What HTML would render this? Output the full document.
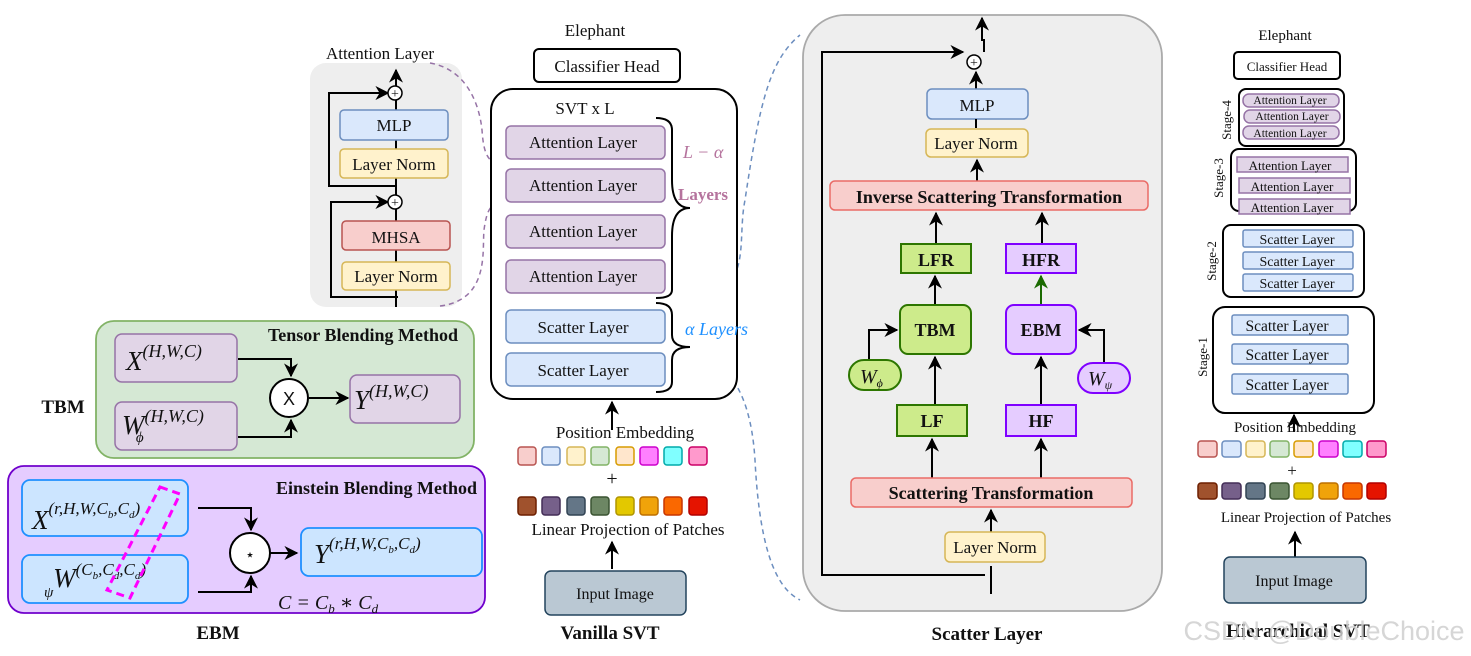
<!DOCTYPE html>
<html><head><meta charset="utf-8"><style>
html,body{margin:0;padding:0;background:#fff;}
svg{display:block;}
text{font-family:"Liberation Serif","DejaVu Serif",serif;fill:#111;}
.b{font-weight:bold;}
.i{font-style:italic;}
</style></head><body>
<svg width="1471" height="656" viewBox="0 0 1471 656" xmlns="http://www.w3.org/2000/svg">
<defs>
<marker id="ah" viewBox="0 0 10 10" refX="9" refY="5" markerWidth="7" markerHeight="7" orient="auto-start-reverse"><path d="M0,0 L10,5 L0,10 L3,5 z" fill="#000"/></marker>
<marker id="ahg" viewBox="0 0 10 10" refX="9" refY="5" markerWidth="7" markerHeight="7" orient="auto"><path d="M0,0 L10,5 L0,10 L3,5 z" fill="#1a6a00"/></marker>
</defs>

<!-- Attention Layer panel -->
<text x="380" y="59" font-size="17" text-anchor="middle">Attention Layer</text>
<rect x="310" y="63" width="152" height="244" rx="16" fill="#eeeeee"/>
<line x1="396" y1="307" x2="396" y2="70" stroke="#000" stroke-width="2" marker-end="url(#ah)"/>
<polyline points="398,297 331,297 331,202 388,202" fill="none" stroke="#000" stroke-width="2" marker-end="url(#ah)"/>
<polyline points="396,186 329,186 329,93 388,93" fill="none" stroke="#000" stroke-width="2" marker-end="url(#ah)"/>
<rect x="340" y="110" width="108" height="30" rx="4" fill="#dae8fc" stroke="#6c8ebf" stroke-width="1.5"/>
<text x="394" y="131" font-size="17" text-anchor="middle">MLP</text>
<rect x="340" y="149" width="108" height="29" rx="4" fill="#fff2cc" stroke="#d6b656" stroke-width="1.5"/>
<text x="394" y="170" font-size="17" text-anchor="middle">Layer Norm</text>
<rect x="342" y="221" width="108" height="29" rx="4" fill="#f8cecc" stroke="#b85450" stroke-width="1.5"/>
<text x="396" y="243" font-size="17" text-anchor="middle">MHSA</text>
<rect x="342" y="262" width="108" height="28" rx="4" fill="#fff2cc" stroke="#d6b656" stroke-width="1.5"/>
<text x="396" y="282" font-size="17" text-anchor="middle">Layer Norm</text>
<circle cx="395" cy="93" r="7" fill="#fff" stroke="#000" stroke-width="1.5"/><text x="395" y="98" font-size="14" text-anchor="middle">+</text>
<circle cx="395" cy="202" r="7" fill="#fff" stroke="#000" stroke-width="1.5"/><text x="395" y="207" font-size="14" text-anchor="middle">+</text>

<!-- dashed connectors -->
<path d="M430,63 C470,70 480,110 482,130 C484,160 490,162 506,168" fill="none" stroke="#9673a6" stroke-width="1.5" stroke-dasharray="5,4"/>
<path d="M440,306 C490,300 482,250 484,230 C488,200 495,205 506,203" fill="none" stroke="#9673a6" stroke-width="1.5" stroke-dasharray="5,4"/>
<path d="M664,310 C760,300 735,250 745,200 C760,100 770,60 800,35" fill="none" stroke="#6c8ebf" stroke-width="1.5" stroke-dasharray="5,4"/>
<path d="M664,344 C720,350 750,380 755,460 C760,560 780,590 800,600" fill="none" stroke="#6c8ebf" stroke-width="1.5" stroke-dasharray="5,4"/>

<!-- TBM -->
<rect x="96" y="321" width="378" height="137" rx="18" fill="#d5e8d4" stroke="#82b366" stroke-width="1.8"/>
<text x="458" y="341" font-size="18" class="b" text-anchor="end">Tensor Blending Method</text>
<text x="63" y="413" font-size="19" class="b" text-anchor="middle">TBM</text>
<rect x="115" y="334" width="122" height="48" rx="7" fill="#e1d5e7" stroke="#9673a6" stroke-width="1.5"/>
<text x="126" y="370" font-size="27" class="i">X<tspan font-size="18" dy="-13">(H,W,C)</tspan></text>
<rect x="115" y="402" width="122" height="48" rx="7" fill="#e1d5e7" stroke="#9673a6" stroke-width="1.5"/>
<text x="122" y="434" font-size="27" class="i">W<tspan font-size="18" dy="-12">(H,W,C)</tspan><tspan font-size="15" dx="-68" dy="20">ϕ</tspan></text>
<polyline points="238,359 291,359 291,376" fill="none" stroke="#000" stroke-width="2" marker-end="url(#ah)"/>
<polyline points="238,437 291,437 291,420" fill="none" stroke="#000" stroke-width="2" marker-end="url(#ah)"/>
<circle cx="289" cy="398" r="19" fill="#fff" stroke="#000" stroke-width="2"/>
<text x="289" y="405" font-size="18" text-anchor="middle" style="font-family:'Liberation Sans',sans-serif">X</text>
<line x1="309" y1="398" x2="348" y2="398" stroke="#000" stroke-width="2" marker-end="url(#ah)"/>
<rect x="350" y="375" width="110" height="48" rx="7" fill="#e1d5e7" stroke="#9673a6" stroke-width="1.5"/>
<text x="354" y="409" font-size="27" class="i">Y<tspan font-size="18" dy="-12">(H,W,C)</tspan></text>

<!-- EBM -->
<rect x="8" y="466" width="477" height="147" rx="16" fill="#e5ccff" stroke="#7000cc" stroke-width="1.8"/>
<text x="477" y="494" font-size="18" class="b" text-anchor="end">Einstein Blending Method</text>
<text x="218" y="639" font-size="19" class="b" text-anchor="middle">EBM</text>
<rect x="22" y="480" width="166" height="56" rx="8" fill="#cce5ff" stroke="#1e90ff" stroke-width="1.8"/>
<text x="32" y="529" font-size="27" class="i">X<tspan font-size="17" dy="-15">(r,H,W,C<tspan font-size="11" dy="4">b</tspan><tspan dy="-4">,C</tspan><tspan font-size="11" dy="4">d</tspan><tspan dy="-4">)</tspan></tspan></text>
<rect x="22" y="555" width="166" height="48" rx="8" fill="#cce5ff" stroke="#1e90ff" stroke-width="1.8"/>
<text x="44" y="587" font-size="27" class="i">W<tspan font-size="17" dy="-12">(C<tspan font-size="11" dy="4">b</tspan><tspan dy="-4">,C</tspan><tspan font-size="11" dy="4">d</tspan><tspan dy="-4">,C</tspan><tspan font-size="11" dy="4">d</tspan><tspan dy="-4">)</tspan></tspan><tspan font-size="15" dx="-102" dy="22">ψ</tspan></text>
<path d="M160,487 L180,494 L130,598 L107,590 Z" fill="none" stroke="#ff00ff" stroke-width="3" stroke-dasharray="8,5"/>
<polyline points="198,508 251,508 251,530" fill="none" stroke="#000" stroke-width="2" marker-end="url(#ah)"/>
<polyline points="198,592 251,592 251,576" fill="none" stroke="#000" stroke-width="2" marker-end="url(#ah)"/>
<circle cx="250" cy="553" r="20" fill="#fff" stroke="#000" stroke-width="2"/>
<text x="250" y="560" font-size="16" text-anchor="middle">⋆</text>
<line x1="270" y1="553" x2="297" y2="553" stroke="#000" stroke-width="2" marker-end="url(#ah)"/>
<rect x="301" y="528" width="181" height="48" rx="8" fill="#cce5ff" stroke="#1e90ff" stroke-width="1.8"/>
<text x="314" y="563" font-size="27" class="i">Y<tspan font-size="17" dy="-14">(r,H,W,C<tspan font-size="11" dy="4">b</tspan><tspan dy="-4">,C</tspan><tspan font-size="11" dy="4">d</tspan><tspan dy="-4">)</tspan></tspan></text>
<text x="278" y="609" font-size="20" class="i">C = C<tspan font-size="13" dy="4">b</tspan><tspan dy="-4"> ∗ C</tspan><tspan font-size="13" dy="4">d</tspan></text>

<!-- Vanilla SVT -->
<text x="595" y="36" font-size="17" text-anchor="middle">Elephant</text>
<rect x="534" y="49" width="146" height="33" rx="5" fill="#fff" stroke="#000" stroke-width="2"/>
<text x="607" y="72" font-size="17" text-anchor="middle">Classifier Head</text>
<rect x="491" y="89" width="246" height="310" rx="22" fill="#fff" stroke="#000" stroke-width="2"/>
<text x="585" y="114" font-size="17" text-anchor="middle">SVT  x L</text>
<g font-size="17">
<rect x="506" y="126" width="159" height="33" rx="5" fill="#e1d5e7" stroke="#9673a6" stroke-width="1.5"/><text x="583" y="148" text-anchor="middle">Attention Layer</text>
<rect x="506" y="169" width="159" height="33" rx="5" fill="#e1d5e7" stroke="#9673a6" stroke-width="1.5"/><text x="583" y="191" text-anchor="middle">Attention Layer</text>
<rect x="506" y="215" width="159" height="33" rx="5" fill="#e1d5e7" stroke="#9673a6" stroke-width="1.5"/><text x="583" y="237" text-anchor="middle">Attention Layer</text>
<rect x="506" y="260" width="159" height="33" rx="5" fill="#e1d5e7" stroke="#9673a6" stroke-width="1.5"/><text x="583" y="282" text-anchor="middle">Attention Layer</text>
<rect x="506" y="310" width="159" height="33" rx="5" fill="#dae8fc" stroke="#6c8ebf" stroke-width="1.5"/><text x="583" y="333" text-anchor="middle">Scatter Layer</text>
<rect x="506" y="353" width="159" height="33" rx="5" fill="#dae8fc" stroke="#6c8ebf" stroke-width="1.5"/><text x="583" y="376" text-anchor="middle">Scatter Layer</text>
</g>
<path d="M656,118 Q672,118 672,130 L672,180 Q672,208 690,208 Q672,208 672,236 L672,290 Q672,298 656,298" fill="none" stroke="#000" stroke-width="2"/>
<path d="M656,303 Q672,303 672,315 L672,335 Q672,347 690,347 Q672,347 672,360 L672,382 Q672,392 656,392" fill="none" stroke="#000" stroke-width="2"/>
<text x="683" y="158" font-size="18" class="i" style="fill:#b5739d">L − α</text>
<text x="678" y="200" font-size="17" class="b" style="fill:#b5739d">Layers</text>
<text x="685" y="335" font-size="18" class="i" style="fill:#1e90ff">α     Layers</text>
<line x1="612" y1="430" x2="612" y2="402" stroke="#000" stroke-width="2" marker-end="url(#ah)"/>
<text x="625" y="438" font-size="17" text-anchor="middle">Position Embedding</text>
<g stroke-width="1.5">
<rect x="518" y="447" width="18" height="18" rx="3" fill="#f8cecc" stroke="#b85450"/>
<rect x="542" y="447" width="18" height="18" rx="3" fill="#dae8fc" stroke="#6c8ebf"/>
<rect x="567" y="447" width="18" height="18" rx="3" fill="#fff2cc" stroke="#d6b656"/>
<rect x="591" y="447" width="18" height="18" rx="3" fill="#d5e8d4" stroke="#82b366"/>
<rect x="616" y="447" width="18" height="18" rx="3" fill="#ffe6cc" stroke="#d79b00"/>
<rect x="640" y="447" width="18" height="18" rx="3" fill="#ff80ff" stroke="#cc00cc"/>
<rect x="664" y="447" width="18" height="18" rx="3" fill="#80ffff" stroke="#00aaaa"/>
<rect x="689" y="447" width="18" height="18" rx="3" fill="#ff99cc" stroke="#cc0066"/>
<rect x="518" y="497" width="18" height="18" rx="3" fill="#a0522d" stroke="#6d1f00"/>
<rect x="542" y="497" width="18" height="18" rx="3" fill="#76608a" stroke="#432d57"/>
<rect x="567" y="497" width="18" height="18" rx="3" fill="#647687" stroke="#314354"/>
<rect x="591" y="497" width="18" height="18" rx="3" fill="#6d8764" stroke="#3a5431"/>
<rect x="616" y="497" width="18" height="18" rx="3" fill="#e3c800" stroke="#b09500"/>
<rect x="640" y="497" width="18" height="18" rx="3" fill="#f0a30a" stroke="#bd7000"/>
<rect x="664" y="497" width="18" height="18" rx="3" fill="#fa6800" stroke="#c73500"/>
<rect x="689" y="497" width="18" height="18" rx="3" fill="#e51400" stroke="#b20000"/>
</g>
<text x="612" y="485" font-size="20" text-anchor="middle">+</text>
<text x="628" y="535" font-size="17" text-anchor="middle">Linear Projection of Patches</text>
<line x1="612" y1="569" x2="612" y2="542" stroke="#000" stroke-width="2" marker-end="url(#ah)"/>
<rect x="545" y="571" width="141" height="44" rx="6" fill="#bac8d3" stroke="#23445d" stroke-width="1.5"/>
<text x="615" y="599" font-size="16" text-anchor="middle">Input Image</text>
<text x="610" y="639" font-size="19" class="b" text-anchor="middle">Vanilla SVT</text>

<!-- Scatter Layer -->
<rect x="803" y="15" width="359" height="596" rx="42" fill="#eeeeee" stroke="#aaaaaa" stroke-width="1.8"/>
<text x="987" y="640" font-size="19" class="b" text-anchor="middle">Scatter Layer</text>
<polyline points="984,52 984,40 982,40 982,18" fill="none" stroke="#000" stroke-width="2" marker-end="url(#ah)"/>
<polyline points="985,575 822,575 822,52 963,52" fill="none" stroke="#000" stroke-width="2" marker-end="url(#ah)"/>
<line x1="991" y1="594" x2="991" y2="566" stroke="#000" stroke-width="2"/>
<circle cx="974" cy="62" r="7" fill="#fff" stroke="#000" stroke-width="1.5"/><text x="974" y="67" font-size="14" text-anchor="middle">+</text>
<line x1="976" y1="90" x2="976" y2="72" stroke="#000" stroke-width="2" marker-end="url(#ah)"/>
<rect x="927" y="89" width="101" height="30" rx="5" fill="#dae8fc" stroke="#6c8ebf" stroke-width="1.5"/>
<text x="977" y="111" font-size="17" text-anchor="middle">MLP</text>
<line x1="976" y1="119" x2="976" y2="128" stroke="#000" stroke-width="2"/>
<rect x="926" y="129" width="102" height="28" rx="5" fill="#fff2cc" stroke="#d6b656" stroke-width="1.5"/>
<text x="976" y="149" font-size="17" text-anchor="middle">Layer Norm</text>
<line x1="977" y1="181" x2="977" y2="160" stroke="#000" stroke-width="2" marker-end="url(#ah)"/>
<rect x="830" y="181" width="318" height="29" rx="5" fill="#f8cecc" stroke="#ea6b66" stroke-width="1.5"/>
<text x="989" y="203" font-size="18" class="b" text-anchor="middle">Inverse Scattering Transformation</text>
<line x1="936" y1="244" x2="936" y2="213" stroke="#000" stroke-width="2" marker-end="url(#ah)"/>
<line x1="1042" y1="244" x2="1042" y2="213" stroke="#000" stroke-width="2" marker-end="url(#ah)"/>
<rect x="901" y="244" width="70" height="29" fill="#cdeb8b" stroke="#2d7600" stroke-width="2"/>
<text x="936" y="266" font-size="18" class="b" text-anchor="middle">LFR</text>
<rect x="1006" y="244" width="70" height="29" fill="#e5ccff" stroke="#7f00ff" stroke-width="2"/>
<text x="1041" y="266" font-size="18" class="b" text-anchor="middle">HFR</text>
<line x1="935" y1="305" x2="935" y2="276" stroke="#000" stroke-width="2" marker-end="url(#ah)"/>
<line x1="1041" y1="305" x2="1041" y2="276" stroke="#1a6a00" stroke-width="2" marker-end="url(#ahg)"/>
<rect x="900" y="305" width="71" height="49" rx="8" fill="#cdeb8b" stroke="#2d7600" stroke-width="2"/>
<text x="935" y="336" font-size="18" class="b" text-anchor="middle">TBM</text>
<rect x="1006" y="305" width="70" height="49" rx="8" fill="#e5ccff" stroke="#7f00ff" stroke-width="2"/>
<text x="1041" y="336" font-size="18" class="b" text-anchor="middle">EBM</text>
<polyline points="869,361 869,330 897,330" fill="none" stroke="#000" stroke-width="2" marker-end="url(#ah)"/>
<polyline points="1104,362 1104,330 1079,330" fill="none" stroke="#000" stroke-width="2" marker-end="url(#ah)"/>
<rect x="849" y="360" width="52" height="30" rx="15" fill="#cdeb8b" stroke="#2d7600" stroke-width="2"/>
<text x="860" y="383" font-size="20" class="i">W<tspan font-size="12" dy="4">ϕ</tspan></text>
<rect x="1078" y="363" width="52" height="30" rx="15" fill="#e5ccff" stroke="#7f00ff" stroke-width="2"/>
<text x="1088" y="385" font-size="20" class="i">W<tspan font-size="12" dy="4">ψ</tspan></text>
<line x1="935" y1="405" x2="935" y2="357" stroke="#000" stroke-width="2" marker-end="url(#ah)"/>
<line x1="1041" y1="405" x2="1041" y2="357" stroke="#000" stroke-width="2" marker-end="url(#ah)"/>
<rect x="897" y="405" width="70" height="31" fill="#cdeb8b" stroke="#2d7600" stroke-width="2"/>
<text x="932" y="427" font-size="18" class="b" text-anchor="middle">LF</text>
<rect x="1006" y="405" width="70" height="31" fill="#e5ccff" stroke="#7f00ff" stroke-width="2"/>
<text x="1041" y="427" font-size="18" class="b" text-anchor="middle">HF</text>
<line x1="932" y1="478" x2="932" y2="439" stroke="#000" stroke-width="2" marker-end="url(#ah)"/>
<line x1="1041" y1="478" x2="1041" y2="439" stroke="#000" stroke-width="2" marker-end="url(#ah)"/>
<rect x="851" y="478" width="281" height="29" rx="5" fill="#f8cecc" stroke="#ea6b66" stroke-width="1.5"/>
<text x="991" y="499" font-size="18" class="b" text-anchor="middle">Scattering Transformation</text>
<line x1="991" y1="532" x2="991" y2="510" stroke="#000" stroke-width="2" marker-end="url(#ah)"/>
<rect x="945" y="532" width="100" height="30" rx="5" fill="#fff2cc" stroke="#d6b656" stroke-width="1.5"/>
<text x="995" y="553" font-size="17" text-anchor="middle">Layer Norm</text>

<!-- Hierarchical -->
<text x="1285" y="40" font-size="15" text-anchor="middle">Elephant</text>
<rect x="1234" y="52" width="106" height="27" rx="4" fill="#fff" stroke="#000" stroke-width="2"/>
<text x="1287" y="71" font-size="13" text-anchor="middle">Classifier Head</text>
<rect x="1239" y="89" width="105" height="57" rx="7" fill="#fff" stroke="#000" stroke-width="2"/>
<g font-size="11.5">
<rect x="1243" y="94" width="96" height="13" rx="6" fill="#e1d5e7" stroke="#9673a6" stroke-width="1.5"/><text x="1290" y="104" text-anchor="middle">Attention Layer</text>
<rect x="1244" y="110" width="96" height="13" rx="6" fill="#e1d5e7" stroke="#9673a6" stroke-width="1.5"/><text x="1292" y="120" text-anchor="middle">Attention Layer</text>
<rect x="1243" y="126" width="96" height="13" rx="6" fill="#e1d5e7" stroke="#9673a6" stroke-width="1.5"/><text x="1290" y="137" text-anchor="middle">Attention Layer</text>
</g>
<rect x="1231" y="149" width="125" height="62" rx="8" fill="#fff" stroke="#000" stroke-width="2"/>
<g font-size="13">
<rect x="1237" y="157" width="111" height="15" fill="#e1d5e7" stroke="#9673a6" stroke-width="1.5"/><text x="1290" y="170" text-anchor="middle">Attention Layer</text>
<rect x="1239" y="178" width="111" height="15" fill="#e1d5e7" stroke="#9673a6" stroke-width="1.5"/><text x="1292" y="191" text-anchor="middle">Attention Layer</text>
<rect x="1239" y="199" width="111" height="15" fill="#e1d5e7" stroke="#9673a6" stroke-width="1.5"/><text x="1292" y="212" text-anchor="middle">Attention Layer</text>
</g>
<rect x="1223" y="225" width="141" height="72" rx="8" fill="#fff" stroke="#000" stroke-width="2"/>
<g font-size="14">
<rect x="1243" y="230" width="110" height="17" rx="2" fill="#dae8fc" stroke="#6c8ebf" stroke-width="1.5"/><text x="1297" y="244" text-anchor="middle">Scatter Layer</text>
<rect x="1243" y="252" width="110" height="17" rx="2" fill="#dae8fc" stroke="#6c8ebf" stroke-width="1.5"/><text x="1297" y="266" text-anchor="middle">Scatter Layer</text>
<rect x="1243" y="274" width="110" height="17" rx="2" fill="#dae8fc" stroke="#6c8ebf" stroke-width="1.5"/><text x="1297" y="288" text-anchor="middle">Scatter Layer</text>
</g>
<rect x="1213" y="307" width="161" height="106" rx="12" fill="#fff" stroke="#000" stroke-width="2"/>
<g font-size="15.5">
<rect x="1232" y="315" width="116" height="20" rx="2" fill="#dae8fc" stroke="#6c8ebf" stroke-width="1.5"/><text x="1287" y="331" text-anchor="middle">Scatter Layer</text>
<rect x="1232" y="344" width="116" height="20" rx="2" fill="#dae8fc" stroke="#6c8ebf" stroke-width="1.5"/><text x="1287" y="360" text-anchor="middle">Scatter Layer</text>
<rect x="1232" y="374" width="116" height="20" rx="2" fill="#dae8fc" stroke="#6c8ebf" stroke-width="1.5"/><text x="1287" y="390" text-anchor="middle">Scatter Layer</text>
</g>
<g font-size="13">
<text transform="translate(1231,120) rotate(-90)" text-anchor="middle">Stage-4</text>
<text transform="translate(1223,178) rotate(-90)" text-anchor="middle">Stage-3</text>
<text transform="translate(1216,261) rotate(-90)" text-anchor="middle">Stage-2</text>
<text transform="translate(1207,357) rotate(-90)" text-anchor="middle">Stage-1</text>
</g>
<line x1="1294" y1="432" x2="1294" y2="415" stroke="#000" stroke-width="2" marker-end="url(#ah)"/>
<text x="1295" y="432" font-size="15" text-anchor="middle">Position Embedding</text>
<g stroke-width="1.5">
<rect x="1198" y="441" width="19" height="16" rx="3" fill="#f8cecc" stroke="#b85450"/>
<rect x="1222" y="441" width="19" height="16" rx="3" fill="#dae8fc" stroke="#6c8ebf"/>
<rect x="1246" y="441" width="19" height="16" rx="3" fill="#fff2cc" stroke="#d6b656"/>
<rect x="1270" y="441" width="19" height="16" rx="3" fill="#d5e8d4" stroke="#82b366"/>
<rect x="1294" y="441" width="19" height="16" rx="3" fill="#ffe6cc" stroke="#d79b00"/>
<rect x="1319" y="441" width="19" height="16" rx="3" fill="#ff80ff" stroke="#cc00cc"/>
<rect x="1343" y="441" width="19" height="16" rx="3" fill="#80ffff" stroke="#00aaaa"/>
<rect x="1367" y="441" width="19" height="16" rx="3" fill="#ff99cc" stroke="#cc0066"/>
<rect x="1198" y="483" width="19" height="16" rx="3" fill="#a0522d" stroke="#6d1f00"/>
<rect x="1222" y="483" width="19" height="16" rx="3" fill="#76608a" stroke="#432d57"/>
<rect x="1246" y="483" width="19" height="16" rx="3" fill="#647687" stroke="#314354"/>
<rect x="1270" y="483" width="19" height="16" rx="3" fill="#6d8764" stroke="#3a5431"/>
<rect x="1294" y="483" width="19" height="16" rx="3" fill="#e3c800" stroke="#b09500"/>
<rect x="1319" y="483" width="19" height="16" rx="3" fill="#f0a30a" stroke="#bd7000"/>
<rect x="1343" y="483" width="19" height="16" rx="3" fill="#fa6800" stroke="#c73500"/>
<rect x="1367" y="483" width="19" height="16" rx="3" fill="#e51400" stroke="#b20000"/>
</g>
<text x="1292" y="476" font-size="17" text-anchor="middle">+</text>
<text x="1306" y="522" font-size="15" text-anchor="middle">Linear Projection of Patches</text>
<line x1="1295" y1="557" x2="1295" y2="532" stroke="#000" stroke-width="2" marker-end="url(#ah)"/>
<rect x="1224" y="557" width="142" height="46" rx="6" fill="#bac8d3" stroke="#23445d" stroke-width="1.5"/>
<text x="1294" y="586" font-size="16" text-anchor="middle">Input Image</text>
<text x="1298" y="637" font-size="19" class="b" text-anchor="middle">Hierarchical SVT</text>
<text x="1324" y="640" font-size="27" text-anchor="middle" style="font-family:'Liberation Sans',sans-serif;fill:#cfcfcf;opacity:0.85">CSDN @DoubleChoice</text>
</svg>
</body></html>
